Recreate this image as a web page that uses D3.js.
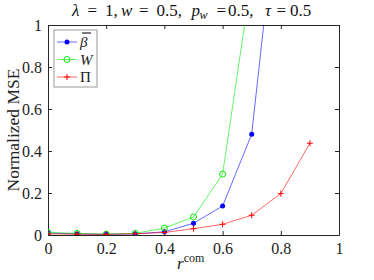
<!DOCTYPE html>
<html>
<head>
<meta charset="utf-8">
<script src="https://cdn.jsdelivr.net/npm/d3@7"></script>
<style>
  body { margin: 0; background: #fff; }
  svg text { font-family: 'Liberation Serif', 'Times New Roman', serif; }
</style>
</head>
<body>
<div id="chart"></div>
<script>
const rValues = [0, 0.1, 0.2, 0.3, 0.4, 0.5, 0.6, 0.7, 0.8, 0.9];
const betaValues = [0.010, 0.005, 0.003, 0.005, 0.015, 0.056, 0.138, 0.48, 1.74];
const wValues = [0.012, 0.008, 0.004, 0.008, 0.033, 0.086, 0.29, 1.23];
const piValues = [0.005, 0.004, 0.003, 0.006, 0.012, 0.030, 0.051, 0.094, 0.197, 0.437];
const xTicks = [0, 0.2, 0.4, 0.6, 0.8, 1];
const yTicks = [0, 0.2, 0.4, 0.6, 0.8, 1];

const width = 374;
const height = 280;
const margin = { top: 25, right: 35, bottom: 45, left: 48 };
const innerW = width - margin.left - margin.right;
const innerH = height - margin.top - margin.bottom;
const serif = "'Liberation Serif', 'Times New Roman', serif";

const svg = d3.select('#chart')
  .append('svg')
  .attr('width', width)
  .attr('height', height);

const g = svg.append('g')
  .attr('transform', `translate(${margin.left},${margin.top})`);

const x = d3.scaleLinear().domain([0, 1]).range([0, innerW]);
const y = d3.scaleLinear().domain([0, 1]).range([innerH, 0]);

// clip for lines going off the top
svg.append('defs').append('clipPath').attr('id', 'clip')
  .append('rect').attr('width', innerW).attr('height', innerH);

// axes with inward ticks (matlab style)
const axisColor = '#262626';
const styleAxis = (sel) => {
  sel.attr('font-family', serif).attr('font-size', 16);
  sel.selectAll('path').attr('stroke', axisColor);
  sel.selectAll('line').attr('stroke', axisColor);
  sel.selectAll('text').attr('fill', '#222');
};

g.append('g')
  .attr('transform', `translate(0,${innerH})`)
  .call(d3.axisBottom(x).tickValues(xTicks).tickFormat(d3.format('')).tickSizeInner(-4).tickSizeOuter(0).tickPadding(8))
  .call(styleAxis);
g.append('g')
  .call(d3.axisTop(x).tickValues(xTicks).tickFormat('').tickSizeInner(-4).tickSizeOuter(0))
  .call(styleAxis);
g.append('g')
  .call(d3.axisLeft(y).tickValues(yTicks).tickFormat(d3.format('')).tickSizeInner(-4).tickSizeOuter(0).tickPadding(6))
  .call(styleAxis);
g.append('g')
  .attr('transform', `translate(${innerW},0)`)
  .call(d3.axisRight(y).tickValues(yTicks).tickFormat('').tickSizeInner(-4).tickSizeOuter(0))
  .call(styleAxis);

const series = [
  { name: 'beta', values: betaValues, color: '#0000ff', marker: 'dot' },
  { name: 'W', values: wValues, color: '#00ee00', marker: 'circle' },
  { name: 'Pi', values: piValues, color: '#ff0000', marker: 'plus' },
];

const line = d3.line().x((d, i) => x(rValues[i])).y((d) => y(d));
const plot = g.append('g').attr('clip-path', 'url(#clip)');

function drawMarker(sel, type, color) {
  if (type === 'dot') {
    sel.append('circle').attr('r', 2.5).attr('fill', color);
  } else if (type === 'circle') {
    sel.append('circle').attr('r', 3).attr('fill', 'none').attr('stroke', color).attr('stroke-width', 1);
  } else {
    sel.append('path').attr('d', 'M-3,0H3M0,-3V3').attr('stroke', color).attr('stroke-width', 1);
  }
}

series.forEach((s) => {
  plot.append('path')
    .datum(s.values)
    .attr('d', line)
    .attr('fill', 'none')
    .attr('stroke', s.color)
    .attr('stroke-opacity', 0.6)
    .attr('stroke-width', 1);
  s.values.forEach((v, i) => {
    if (v > 1) return;
    const m = plot.append('g').attr('transform', `translate(${x(rValues[i])},${y(v)})`);
    drawMarker(m, s.marker, s.color);
  });
});

// legend
const legend = g.append('g').attr('transform', 'translate(6,5)');
legend.append('rect')
  .attr('width', 43).attr('height', 57)
  .attr('fill', '#fff').attr('stroke', '#999').attr('stroke-width', 1);
const labels = ['β', 'W', 'Π'];
series.forEach((s, i) => {
  const yy = 12 + i * 17.5;
  const item = legend.append('g').attr('transform', `translate(0,${yy})`);
  item.append('line').attr('x1', 3).attr('x2', 23)
    .attr('stroke', s.color).attr('stroke-opacity', 0.6);
  const m = item.append('g').attr('transform', 'translate(13,0)');
  drawMarker(m, s.marker, s.color);
  item.append('text').attr('x', 26).attr('y', 5)
    .attr('font-size', 15)
    .attr('font-style', i === 2 ? 'normal' : 'italic')
    .attr('fill', '#222')
    .text(labels[i]);
  if (i === 0) {
    item.append('line').attr('x1', 28).attr('x2', 37).attr('y1', -9).attr('y2', -9)
      .attr('stroke', '#222').attr('stroke-width', 1.2);
  }
});

// title, laid out piece by piece to mimic TeX spacing
const titleParts = [
  { t: 'λ', x: 72, it: true },
  { t: '=', x: 87.5 },
  { t: '1,', x: 105 },
  { t: 'w', x: 121, it: true },
  { t: '=', x: 139 },
  { t: '0.5,', x: 156.5 },
  { t: 'p', x: 191.5, it: true },
  { t: 'w', x: 199.5, it: true, sub: true },
  { t: '=', x: 216.5 },
  { t: '0.5,', x: 228 },
  { t: 'τ', x: 265, it: true },
  { t: '=', x: 276.5 },
  { t: '0.5', x: 290 },
];
const title = svg.append('g');
titleParts.forEach((p) => {
  title.append('text')
    .attr('x', p.x)
    .attr('y', p.sub ? 19 : 15.5)
    .attr('font-size', p.sub ? 12 : 17)
    .attr('font-style', p.it ? 'italic' : 'normal')
    .attr('fill', '#111')
    .attr('textLength', p.t === '=' ? 11 : null)
    .text(p.t);
});

// y label
svg.append('text')
  .attr('transform', `translate(19,${margin.top + 105}) rotate(-90)`)
  .attr('text-anchor', 'middle')
  .attr('font-size', 17.5)
  .attr('fill', '#222')
  .text('Normalized MSE');

// x label
const xl = svg.append('text')
  .attr('x', 177)
  .attr('y', 269)
  .attr('font-size', 17)
  .attr('fill', '#222');
xl.append('tspan').attr('font-style', 'italic').text('r');
xl.append('tspan').attr('dy', -7).attr('font-size', 12).text('com');
</script>
</body>
</html>
